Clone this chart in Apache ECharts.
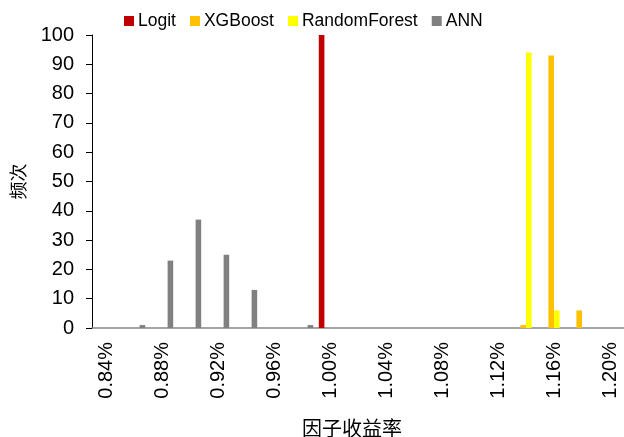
<!DOCTYPE html>
<html>
<head>
<meta charset="utf-8">
<script src="https://cdn.jsdelivr.net/npm/echarts@6/dist/echarts.min.js"></script>
<style>html,body{margin:0;padding:0;background:#fff}#c{width:624px;height:437px}</style>
</head>
<body>
<div id="c"></div>
<script>
var categories = ['0.84%','0.86%','0.88%','0.90%','0.92%','0.94%','0.96%','0.98%','1.00%','1.02%','1.04%','1.06%','1.08%','1.10%','1.12%','1.14%','1.16%','1.18%','1.20%'];
var logit        = [0,0,0,0,0,0,0,0,100,0,0,0,0,0,0,0,0,0,0];
var xgboost      = [0,0,0,0,0,0,0,0,0,0,0,0,0,0,0,1,93,6,0];
var randomForest = [0,0,0,0,0,0,0,0,0,0,0,0,0,0,0,94,6,0,0];
var ann          = [0,1,23,37,25,13,0,1,0,0,0,0,0,0,0,0,0,0,0];
var yTicks = {min: 0, max: 100, interval: 10};

var chart = echarts.init(document.getElementById('c'), null, {renderer: 'canvas'});
var font = 'Liberation Sans, Arial, sans-serif';
var cjk = 'Noto Sans CJK SC, sans-serif';
function s(name, data, color) {
  return {name: name, type: 'bar', data: data, itemStyle: {color: color}, barGap: '0%', barCategoryGap: '20%'};
}
chart.setOption({
  animation: false,
  legend: {
    left: 124, top: 12, padding: 0, itemWidth: 10, itemHeight: 10, itemGap: 14,
    icon: 'rect',
    textStyle: {fontFamily: font, fontSize: 17.5, color: '#000', padding: [0,0,0,-1]},
    data: ['Logit','XGBoost','RandomForest','ANN']
  },
  grid: {left: 92, right: 0, top: 35, bottom: 109, containLabel: false, outerBoundsMode: 'none'},
  xAxis: {
    type: 'category', data: categories,
    name: '因子收益率', nameLocation: 'middle', nameGap: 90,
    nameTextStyle: {fontFamily: cjk, fontSize: 20, color: '#000', padding: [0,12,0,0]},
    axisLine: {lineStyle: {color: '#868686', width: 1.5}},
    axisTick: {interval: 1, length: 5, lineStyle: {color: '#000'}},
    axisLabel: {interval: 1, rotate: 90, margin: 14, fontFamily: font, fontSize: 20, color: '#000'}
  },
  yAxis: {
    type: 'value', min: yTicks.min, max: yTicks.max, interval: yTicks.interval,
    name: '频次', nameLocation: 'middle', nameGap: 65,
    nameTextStyle: {fontFamily: cjk, fontSize: 18, color: '#000'},
    axisLine: {show: true, lineStyle: {color: '#000'}},
    axisTick: {show: true, length: 6, lineStyle: {color: '#000'}},
    splitLine: {show: false},
    axisLabel: {margin: 18, fontFamily: font, fontSize: 20, color: '#000'}
  },
  series: [
    s('Logit', logit, '#C00000'),
    s('XGBoost', xgboost, '#FFC000'),
    s('RandomForest', randomForest, '#FFFF00'),
    s('ANN', ann, '#808080')
  ]
});
</script>
</body>
</html>
